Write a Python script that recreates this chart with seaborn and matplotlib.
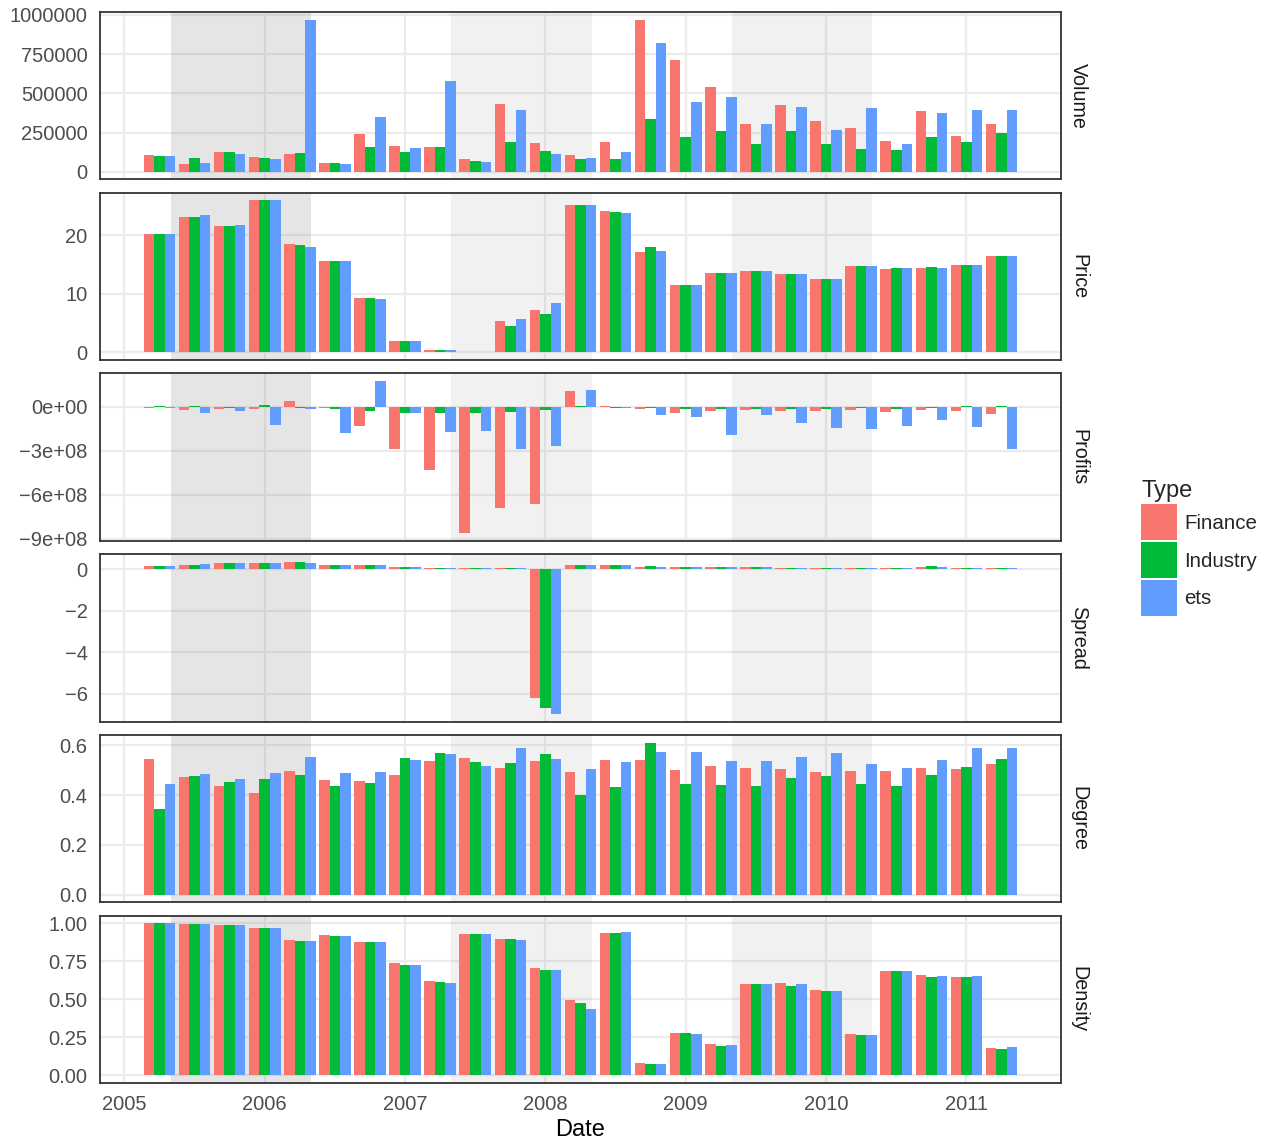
import matplotlib
matplotlib.use("Agg")
import pandas as pd
import matplotlib.pyplot as plt
import seaborn as sns
from matplotlib.patches import Patch

# Quarterly dates (decimal years)
quarters = [2005.25, 2005.5, 2005.75, 2006.0, 2006.25, 2006.5, 2006.75, 2007.0,
            2007.25, 2007.5, 2007.75, 2008.0, 2008.25, 2008.5, 2008.75, 2009.0,
            2009.25, 2009.5, 2009.75, 2010.0, 2010.25, 2010.5, 2010.75, 2011.0, 2011.25]

types = ['Finance', 'Industry', 'ets']
type_colors = ['#F8766D', '#00BA38', '#619CFF']

volume_fin = [106000, 49000, 125000, 93000, 112000, 55000, 239000, 163000, 157000, 81000, 430000, 182000, 106000,
              189000, 970000, 710000, 538000, 303000, 424000, 322000, 278000, 195000, 386000, 227000, 303000]
volume_ind = [100000, 87000, 125000, 87000, 119000, 55000, 157000, 125000, 157000, 68000, 189000, 131000, 81000,
              81000, 335000, 220000, 258000, 176000, 258000, 176000, 144000, 138000, 220000, 189000, 246000]
volume_ets = [100000, 55000, 112000, 81000, 970000, 49000, 348000, 150000, 576000, 61000, 392000, 112000, 87000,
              125000, 818000, 443000, 475000, 303000, 411000, 265000, 405000, 176000, 373000, 392000, 392000]

price_fin = [20.2, 23.1, 21.6, 26.0, 18.5, 15.6, 9.3, 2.0, 0.45, 0.1, 5.4, 7.3, 25.2,
             24.1, 17.2, 11.5, 13.6, 13.9, 13.4, 12.6, 14.8, 14.3, 14.4, 14.9, 16.5]
price_ind = [20.2, 23.1, 21.6, 26.0, 18.35, 15.6, 9.3, 2.0, 0.45, 0.1, 4.5, 6.6, 25.2,
             24.0, 18.0, 11.5, 13.6, 13.9, 13.4, 12.6, 14.8, 14.4, 14.6, 14.9, 16.5]
price_ets = [20.2, 23.5, 21.8, 26.0, 18.0, 15.6, 9.15, 2.0, 0.45, 0.1, 5.7, 8.5, 25.2,
             23.8, 17.3, 11.5, 13.6, 13.9, 13.4, 12.6, 14.8, 14.4, 14.4, 14.9, 16.5]

# profits in millions
profits_fin = [-5, -18, -11, -11, 41, -4, -127, -284, -434, -863, -693, -666, 109,
               5, -11, -39, -25, -18, -25, -25, -18, -32, -18, -25, -46]
profits_ind = [5, 5, -5, 14, -4, -14, -25, -39, -39, -39, -32, -18, 5,
               -4, -4, -14, -11, -11, -11, -11, -5, -11, -4, 4, 7]
profits_ets = [-5, -39, -25, -120, -14, -175, 177, -39, -168, -161, -284, -270, 116,
               -5, -52, -66, -195, -52, -107, -141, -148, -127, -86, -134, -290]

spread_fin = [0.16, 0.2, 0.3, 0.3, 0.35, 0.2, 0.2, 0.11, 0.03, 0.03, 0.03, -6.22, 0.2,
              0.2, 0.11, 0.11, 0.11, 0.11, 0.03, 0.03, 0.03, 0.03, 0.11, 0.03, 0.03]
spread_ind = [0.16, 0.2, 0.3, 0.3, 0.35, 0.2, 0.2, 0.11, 0.03, 0.03, 0.03, -6.7, 0.2,
              0.2, 0.16, 0.11, 0.11, 0.11, 0.03, 0.03, 0.03, 0.03, 0.16, 0.03, 0.03]
spread_ets = [0.16, 0.25, 0.3, 0.3, 0.3, 0.2, 0.2, 0.11, 0.03, 0.03, 0.03, -6.98, 0.2,
              0.2, 0.11, 0.11, 0.11, 0.11, 0.03, 0.03, 0.03, 0.03, 0.11, 0.03, 0.03]

degree_fin = [0.543, 0.471, 0.435, 0.407, 0.495, 0.459, 0.455, 0.479, 0.535, 0.547, 0.507, 0.535, 0.491,
              0.539, 0.539, 0.499, 0.515, 0.507, 0.503, 0.491, 0.495, 0.495, 0.507, 0.503, 0.523]
degree_ind = [0.343, 0.475, 0.451, 0.463, 0.479, 0.435, 0.447, 0.547, 0.567, 0.531, 0.527, 0.563, 0.399,
              0.431, 0.611, 0.443, 0.439, 0.435, 0.467, 0.475, 0.443, 0.435, 0.479, 0.511, 0.543]
degree_ets = [0.443, 0.483, 0.463, 0.487, 0.551, 0.487, 0.491, 0.539, 0.563, 0.515, 0.591, 0.543, 0.503,
              0.531, 0.571, 0.571, 0.535, 0.535, 0.551, 0.567, 0.523, 0.507, 0.539, 0.591, 0.591]

density_fin = [1.0, 0.995, 0.99, 0.97, 0.89, 0.923, 0.877, 0.74, 0.621, 0.93, 0.897, 0.707, 0.497,
               0.937, 0.083, 0.28, 0.208, 0.602, 0.608, 0.562, 0.274, 0.687, 0.661, 0.648, 0.182]
density_ind = [1.0, 0.995, 0.99, 0.97, 0.884, 0.917, 0.877, 0.726, 0.615, 0.93, 0.897, 0.694, 0.477,
               0.937, 0.077, 0.28, 0.195, 0.602, 0.589, 0.556, 0.267, 0.687, 0.648, 0.648, 0.175]
density_ets = [1.0, 0.995, 0.99, 0.97, 0.884, 0.917, 0.877, 0.726, 0.608, 0.93, 0.89, 0.694, 0.438,
               0.943, 0.077, 0.274, 0.201, 0.602, 0.602, 0.556, 0.267, 0.687, 0.654, 0.654, 0.188]

panels = ['Volume', 'Price', 'Profits', 'Spread', 'Degree', 'Density']
panel_data = {
    'Volume': [volume_fin, volume_ind, volume_ets],
    'Price': [price_fin, price_ind, price_ets],
    'Profits': [[v * 1e6 for v in profits_fin], [v * 1e6 for v in profits_ind], [v * 1e6 for v in profits_ets]],
    'Spread': [spread_fin, spread_ind, spread_ets],
    'Degree': [degree_fin, degree_ind, degree_ets],
    'Density': [density_fin, density_ind, density_ets],
}

yticks = {
    'Volume': [0, 250000, 500000, 750000, 1000000],
    'Price': [0, 10, 20],
    'Profits': [0, -3e8, -6e8, -9e8],
    'Spread': [0, -2, -4, -6],
    'Degree': [0, 0.2, 0.4, 0.6],
    'Density': [0, 0.25, 0.5, 0.75, 1.0],
}
ytick_labels = {
    'Volume': ['0', '250000', '500000', '750000', '1000000'],
    'Price': ['0', '10', '20'],
    'Profits': ['0e+00', '\u22123e+08', '\u22126e+08', '\u22129e+08'],
    'Spread': ['0', '\u22122', '\u22124', '\u22126'],
    'Degree': ['0.0', '0.2', '0.4', '0.6'],
    'Density': ['0.00', '0.25', '0.50', '0.75', '1.00'],
}
xtick_years = [2005, 2006, 2007, 2008, 2009, 2010, 2011]

# shaded periods
shade_start = [2005.33, 2007.33, 2009.33]
shade_end = [2006.33, 2008.33, 2010.33]
shade_alpha = [0.2, 0.1, 0.1]

# long format table
rows = []
for panel in panels:
    for t, vals in zip(types, panel_data[panel]):
        for d, v in zip(quarters, vals):
            rows.append({'Variable': panel, 'Type': t, 'Date': d, 'Value': v})
df = pd.DataFrame(rows)

sns.set_style('white')
plt.rcParams['font.family'] = ['Liberation Sans', 'DejaVu Sans']

fig = plt.figure(figsize=(12.72, 11.42), dpi=100)
axs = fig.subplots(6, 1, sharex=True)
fig.subplots_adjust(left=100 / 1272, right=1061 / 1272, top=1 - 12 / 1142, bottom=1 - 1083 / 1142, hspace=0.08)

for ax, panel in zip(axs, panels):
    for s, e, a in zip(shade_start, shade_end, shade_alpha):
        ax.axvspan(s, e, color='#7F7F7F', alpha=a, lw=0, zorder=1)
    sns.barplot(data=df[df['Variable'] == panel], x='Date', y='Value', hue='Type',
                hue_order=types, palette=type_colors, native_scale=True, width=0.9,
                saturation=1, errorbar=None, linewidth=0, legend=False, ax=ax, zorder=2)
    ax.set_yticks(yticks[panel])
    ax.set_yticklabels(ytick_labels[panel])
    ax.use_sticky_edges = False
    ax.margins(x=0.05, y=0.05)
    ax.autoscale_view()
    ax.set_ylabel('')
    ax.set_xlabel('')
    ax.set_axisbelow(True)
    ax.grid(True, color='#EBEBEB', lw=1.6)
    for sp in ax.spines.values():
        sp.set_visible(True)
        sp.set_color('#333333')
        sp.set_linewidth(1.3)
    ax.tick_params(length=0, labelsize=14.5, labelcolor='#4D4D4D', pad=9)
    ax.text(1.0 + 8 / 961, 0.5, panel, transform=ax.transAxes, rotation=-90,
            ha='left', va='center', fontsize=14.2, color='#1A1A1A')

axs[-1].set_xticks(xtick_years)
axs[-1].set_xticklabels([str(y) for y in xtick_years])
axs[-1].set_xlabel('Date', fontsize=17, color='black', labelpad=3)

handles = [Patch(facecolor=c, edgecolor='none', label=t) for t, c in zip(types, type_colors)]
fig.legend(handles=handles, title='Type', loc='center left', bbox_to_anchor=(1131 / 1272, 0.52),
           frameon=False, fontsize=14.8, title_fontsize=17, handlelength=1.75, handleheight=2.3,
           handletextpad=0.35, labelspacing=0.1, borderpad=0, alignment='left')

plt.savefig('out.png', dpi=100)
